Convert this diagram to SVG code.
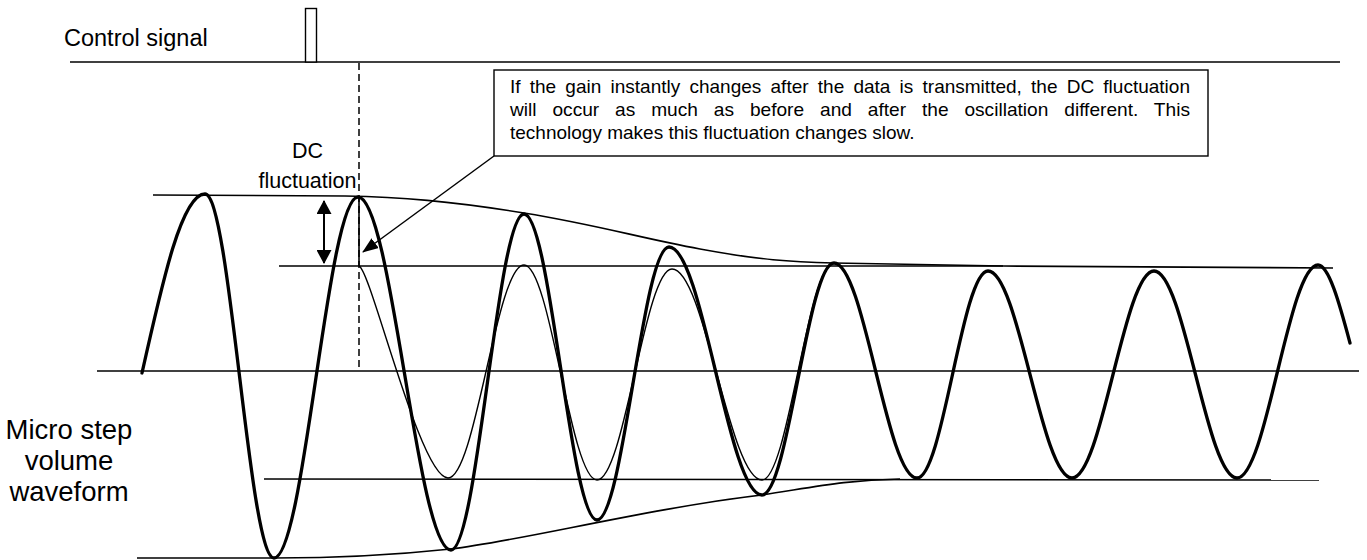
<svg xmlns="http://www.w3.org/2000/svg" width="1367" height="560" viewBox="0 0 1367 560">
<style>
  text { font-family: "Liberation Sans", Arial, sans-serif; fill: #000; }
  .ln { fill: none; stroke: #000; stroke-width: 1.6; }
  .thin { fill: none; stroke: #000; stroke-width: 1.4; }
  .thick { fill: none; stroke: #000; stroke-width: 3.3; stroke-linejoin: round; stroke-linecap: round; }
  .dash { fill: none; stroke: #000; stroke-width: 1.5; stroke-dasharray: 7 4; }
  .box { fill: #fff; stroke: #000; stroke-width: 1.4; }
  .note { font-size: 19px; }
</style>
<defs>
  <marker id="ahCallout" viewBox="0 0 16 12" refX="15" refY="6" markerWidth="16" markerHeight="12" markerUnits="userSpaceOnUse" orient="auto">
    <path d="M0,0 L16,6 L0,12 z" fill="#000"/>
  </marker>
  <marker id="ahDC" viewBox="0 0 14 15" refX="13" refY="7.5" markerWidth="14" markerHeight="15" markerUnits="userSpaceOnUse" orient="auto-start-reverse">
    <path d="M0,0 L14,7.5 L0,15 z" fill="#000"/>
  </marker>
</defs>
<rect width="1367" height="560" fill="#fff"/>

<g id="control-signal">
  <text x="64" y="46" font-size="23.5">Control signal</text>
  <line class="ln" x1="70" y1="62" x2="1340" y2="62"/>
  <rect x="305.5" y="8.5" width="11" height="53.5" fill="#fff" stroke="#000" stroke-width="1.4"/>
</g>

<g id="callout">
  <rect class="box" x="494" y="70" width="714" height="86"/>
  <text class="note" x="510" y="93" word-spacing="3.9" textLength="680" lengthAdjust="spacingAndGlyphs">If the gain instantly changes after the data is transmitted, the DC fluctuation</text>
  <text class="note" x="510" y="116" word-spacing="10.5" textLength="680" lengthAdjust="spacingAndGlyphs">will occur as much as before and after the oscillation different. This</text>
  <text class="note" x="510" y="139">technology makes this fluctuation changes slow.</text>
</g>

<g id="dc-fluctuation-label">
  <text x="307.5" y="158" font-size="21.5" text-anchor="middle">DC</text>
  <text x="307.5" y="188" font-size="21.5" text-anchor="middle">fluctuation</text>
</g>

<g id="waveform-label">
  <text x="69" y="439" font-size="27.5" text-anchor="middle">Micro step</text>
  <text x="69" y="470" font-size="27.5" text-anchor="middle">volume</text>
  <text x="69" y="501" font-size="27.5" text-anchor="middle">waveform</text>
</g>

<g id="reference-lines">
  <line class="ln" x1="97" y1="371" x2="1359" y2="371"/>
  <polyline class="ln" points="279,266 1003,266 1333,268"/>
  <line class="ln" x1="264" y1="479" x2="1319" y2="480"/>
  <path class="ln" d="M153,195 L345,196 C400,197 450,201 524,213 S640,238 700,249 S790,262 834,263 L1003,266"/>
  <path class="ln" d="M137,558 L274,558 C330,558 395,555 451,549 C520,541 650,508 762,495 C815,487 845,480 900,479"/>
  <line class="dash" x1="359" y1="63" x2="359" y2="369"/>
  <line class="ln" x1="359" y1="197" x2="359" y2="266"/>
</g>

<g id="waveform">
  <path class="thin" d="M359,266 C371,270 420,478 448,478 C475.6,478 496.4,265 524,265 C550.5,265 570.5,480 597,480 C624.3,480 644.7,269 672,269 C704.7,269 729.3,480 762,480 C788.2,480 807.8,263 834,263"/>
  <path class="thick" d="M142,373 C163,279 182,194 205,194 C230.1,194 248.9,558 274,558 C304.5,558 327.5,197 358,197 C391.8,197 417.2,550 451,550 C477.5,550 497.5,214 524,214 C550.5,214 570.5,520 597,520 C623.2,520 642.8,247 669,247 C702.8,247 728.2,495 762,495 C788.2,495 807.8,263 834,263 C864.2,263 886.8,478 917,478 C942.8,478 962.2,271 988,271 C1018.5,271 1041.5,478 1072,478 C1101.8,478 1124.2,271 1154,271 C1184.2,271 1206.8,478 1237,478 C1266.4,478 1288.6,265 1318,265 C1328.7,265 1339.3,302.7 1350,343"/>
</g>

<g id="connectors">
  <line x1="494" y1="156" x2="363" y2="252" stroke="#000" stroke-width="1.5" marker-end="url(#ahCallout)"/>
  <line x1="324" y1="201" x2="324" y2="263" stroke="#000" stroke-width="2" marker-start="url(#ahDC)" marker-end="url(#ahDC)"/>
</g>
</svg>
